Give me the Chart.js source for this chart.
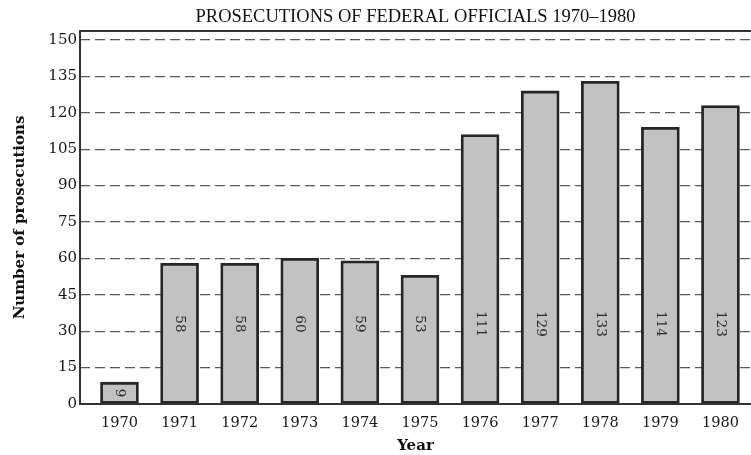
<!DOCTYPE html>
<html>
<head>
<meta charset="utf-8">
<script src="https://cdn.jsdelivr.net/npm/chart.js@4.4.1/dist/chart.umd.min.js"></script>
<style>
  html, body { margin: 0; padding: 0; background: #fff; }
  #wrap { width: 751px; height: 455px; }
</style>
</head>
<body>
<div id="wrap"><canvas id="chart" width="751" height="455"></canvas></div>
<script>
// data
const years = ["1970", "1971", "1972", "1973", "1974", "1975", "1976", "1977", "1978", "1979", "1980"];
const prosecutions = [9, 58, 58, 60, 59, 53, 111, 129, 133, 114, 123];
const yStep = 15;
const yMax = 153.7;

const ink = "#161616";

// rotated value labels inside the bars
const barLabels = {
  id: "barLabels",
  afterDatasetsDraw(chart) {
    const ctx = chart.ctx;
    const ys = chart.scales.y;
    chart.getDatasetMeta(0).data.forEach((bar, i) => {
      const v = prosecutions[i];
      const y = ys.getPixelForValue(v >= 40 ? 33 : v / 2);
      ctx.save();
      ctx.translate(bar.x, y);
      ctx.rotate(Math.PI / 2);
      ctx.font = "13.5px 'DejaVu Serif'";
      ctx.fillStyle = "#2a2a2a";
      ctx.textAlign = "center";
      ctx.textBaseline = "middle";
      ctx.fillText(String(v), 0, 0);
      ctx.restore();
    });
  }
};

// box round the plot (right side runs off the page)
const frame = {
  id: "frame",
  afterDraw(chart) {
    const { ctx, chartArea: a, width } = chart;
    ctx.save();
    ctx.strokeStyle = "#333";
    ctx.lineWidth = 2;
    ctx.beginPath();
    ctx.moveTo(width, a.top);
    ctx.lineTo(a.left, a.top);
    ctx.lineTo(a.left, a.bottom);
    ctx.lineTo(width, a.bottom);
    ctx.stroke();
    ctx.restore();
  }
};

new Chart(document.getElementById("chart"), {
  type: "bar",
  data: {
    datasets: [{
      data: years.map((y, i) => ({ x: i, y: prosecutions[i] })),
      backgroundColor: "#c2c2c2",
      borderColor: "#262626",
      borderWidth: 2.8,
      borderSkipped: false,
      barThickness: 38
    }]
  },
  options: {
    responsive: false,
    animation: false,
    layout: { padding: 0 },
    plugins: {
      legend: { display: false },
      tooltip: { enabled: false },
      title: {
        display: true,
        fullSize: false,
        text: "PROSECUTIONS OF FEDERAL OFFICIALS 1970\u20131980",
        color: "#111",
        font: { family: "'Liberation Serif'", size: 18.5, weight: "normal" },
        padding: { top: 6, bottom: 2.8 }
      }
    },
    scales: {
      x: {
        type: "linear",
        min: -0.657,
        max: 10.508,
        offset: false,
        grid: { display: false },
        border: { display: false },
        ticks: {
          stepSize: 1,
          includeBounds: false,
          autoSkip: false,
          maxRotation: 0,
          padding: 3,
          color: ink,
          font: { family: "'DejaVu Serif'", size: 14.5 },
          callback: v => years[v] ?? ""
        },
        title: {
          display: true,
          text: "Year",
          color: "#111",
          font: { family: "'DejaVu Serif'", size: 15, weight: "bold", lineHeight: 1 },
          padding: { top: 0, bottom: 1 }
        },
        afterFit(s) { s.height = 51; }
      },
      y: {
        min: 0,
        max: yMax,
        grid: {
          color: "#5a5a5a",
          lineWidth: 1.3,
          drawTicks: false,
          borderDash: [10, 5]
        },
        border: { display: false, dash: [10, 5] },
        ticks: {
          stepSize: yStep,
          includeBounds: false,
          padding: 3,
          color: ink,
          font: { family: "'DejaVu Serif'", size: 15 }
        },
        title: {
          display: true,
          text: "Number of prosecutions",
          color: "#111",
          font: { family: "'DejaVu Serif'", size: 15, weight: "bold" },
          padding: { top: 11, bottom: 0 }
        },
        afterFit(s) { s.width = 80; }
      }
    }
  },
  plugins: [barLabels, frame]
});
</script>
</body>
</html>
